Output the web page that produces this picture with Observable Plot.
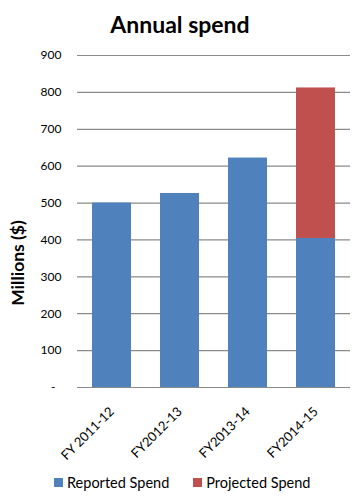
<!DOCTYPE html>
<html>
<head>
<meta charset="utf-8">
<script src="https://cdn.jsdelivr.net/npm/d3@7"></script>
<script src="https://cdn.jsdelivr.net/npm/@observablehq/plot@0.6"></script>
<style>
  html, body { margin: 0; padding: 0; background: #fff; }
  #wrap { position: relative; width: 363px; height: 499px; font-family: Lato, "Open Sans", sans-serif; }
  #title { position: absolute; left: 0; width: 360px; top: 10px; text-align: center; font-weight: bold; font-size: 23px; color: #000; }
  #ylabel { position: absolute; left: 17px; top: 263px; transform: translate(-50%, -50%) rotate(-90deg); white-space: nowrap; font-weight: bold; font-size: 17.5px; color: #000; }
  #legend { position: absolute; top: 474px; left: 54px; font-size: 14.5px; color: #000; display: flex; align-items: center; white-space: nowrap; }
  .sw { display: inline-block; width: 9px; height: 9px; margin-right: 4px; }
  .item { display: flex; align-items: center; margin-right: 24px; }
</style>
</head>
<body>
<div id="wrap">
  <div id="chart"></div>
  <div id="title">Annual spend</div>
  <div id="ylabel">Millions ($)</div>
  <div id="legend"></div>
</div>
<script>
const years = ["FY 2011-12", "FY2012-13", "FY2013-14", "FY2014-15"];
const reported = [500, 526, 622, 404];
const projected = [0, 0, 0, 408];
const seriesNames = ["Reported Spend", "Projected Spend"];
const seriesColors = ["#4F81BD", "#C0504D"];
const yTicks = [0, 100, 200, 300, 400, 500, 600, 700, 800, 900];

const rows = [];
years.forEach((y, i) => {
  rows.push({year: y, series: seriesNames[0], value: reported[i]});
  if (projected[i] > 0) rows.push({year: y, series: seriesNames[1], value: projected[i]});
});

const chart = Plot.plot({
  width: 363,
  height: 499,
  marginTop: 55,
  marginBottom: 112,
  marginLeft: 77,
  marginRight: 13,
  style: {fontFamily: "Lato, 'Open Sans', sans-serif", fontSize: "12px", color: "#000", background: "#fff"},
  x: {domain: years, paddingInner: 0.43, paddingOuter: 0.215, label: null},
  y: {domain: [0, 900], label: null},
  color: {domain: seriesNames, range: seriesColors},
  marks: [
    Plot.ruleY(yTicks, {stroke: "#8a8a8a", strokeWidth: 1.2}),
    Plot.barY(rows, {x: "year", y: "value", fill: "series", order: seriesNames}),
    Plot.axisY(yTicks, {tickSize: 0, tickPadding: 16, tickFormat: d => d === 0 ? "-\u00a0\u00a0" : String(d), fill: "#000"}),
    Plot.axisX({tickSize: 0, tickRotate: -45, tickPadding: 22, fontSize: 13, fill: "#000"})
  ]
});
document.getElementById("chart").appendChild(chart);

const legend = document.getElementById("legend");
seriesNames.forEach((n, i) => {
  const it = document.createElement("div");
  it.className = "item";
  const sw = document.createElement("span");
  sw.className = "sw";
  sw.style.background = seriesColors[i];
  it.appendChild(sw);
  it.appendChild(document.createTextNode(n));
  legend.appendChild(it);
});
</script>
</body>
</html>
